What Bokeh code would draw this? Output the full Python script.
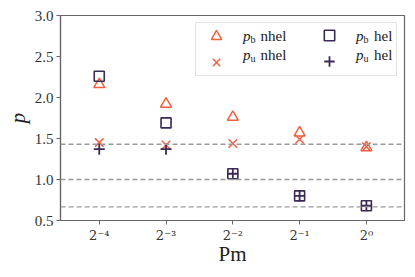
from bokeh.plotting import figure
from bokeh.models import (Range1d, FixedTicker, Span, Legend, LegendItem, Label,
                          ColumnDataSource, NumeralTickFormatter)
from bokeh.embed import file_html
from bokeh.resources import INLINE

# ---- data ----
pm = [0.0625, 0.125, 0.25, 0.5, 1.0]
pb_nhel = [2.16, 1.92, 1.76, 1.57, 1.39]
pu_nhel = [1.45, 1.42, 1.44, 1.49, 1.40]
pb_hel = [2.26, 1.69, 1.07, 0.80, 0.68]
pu_hel = [1.37, 1.37, 1.07, 0.80, 0.68]
ref_lines = [1.43, 1.0, 0.667]
x_ticks = [0.0625, 0.125, 0.25, 0.5, 1.0]
x_tick_labels = ["2⁻⁴", "2⁻³", "2⁻²", "2⁻¹", "2⁰"]
y_ticks = [0.5, 1.0, 1.5, 2.0, 2.5, 3.0]

ORANGE = "#f2603f"
PURPLE = "#3a2a55"
FONT = "Liberation Serif"
AX = "#666666"

src = ColumnDataSource(dict(pm=pm, pb_nhel=pb_nhel, pu_nhel=pu_nhel,
                            pb_hel=pb_hel, pu_hel=pu_hel))

p = figure(width=415, height=277, x_axis_type="log",
           x_range=Range1d(0.0418, 1.485), y_range=Range1d(0.5, 3.0),
           output_backend="svg", toolbar_location=None,
           min_border_left=60, min_border_right=11,
           min_border_top=15, min_border_bottom=57)
p.background_fill_color = "white"
p.border_fill_color = "white"
p.outline_line_color = AX
p.outline_line_width = 1.2
p.xgrid.visible = False
p.ygrid.visible = False

for v in ref_lines:
    p.add_layout(Span(location=v, dimension="width", line_color="#9a9a9a",
                      line_dash="5 3", line_width=1.3))

r1 = p.scatter("pm", "pb_nhel", source=src, marker="triangle", size=11,
               fill_color=None, line_color=ORANGE, line_width=1.5)
r2 = p.scatter("pm", "pu_nhel", source=src, marker="x", size=12,
               line_color=ORANGE, line_width=1.5)
r3 = p.scatter("pm", "pb_hel", source=src, marker="square", size=10,
               fill_color=None, line_color=PURPLE, line_width=1.6)
r4 = p.scatter("pm", "pu_hel", source=src, marker="cross", size=11,
               line_color=PURPLE, line_width=1.8)

# axes
p.xaxis.ticker = FixedTicker(ticks=x_ticks, minor_ticks=[])
p.xaxis.major_label_overrides = {t: l for t, l in zip(x_ticks, x_tick_labels)}
p.yaxis.ticker = FixedTicker(ticks=y_ticks, minor_ticks=[])
p.yaxis.formatter = NumeralTickFormatter(format="0.0")
for ax in (p.xaxis[0], p.yaxis[0]):
    ax.axis_line_color = AX
    ax.axis_line_width = 1.2
    ax.major_tick_line_color = AX
    ax.major_tick_out = 4
    ax.major_tick_in = 0
    ax.minor_tick_out = 0
    ax.minor_tick_in = 0
    ax.major_label_text_font = FONT
    ax.major_label_text_font_size = "15px"
    ax.major_label_text_color = "#333333"
    ax.axis_label_text_font = FONT
    ax.axis_label_text_font_size = "21px"
    ax.axis_label_text_color = "#222222"
    ax.axis_label_text_font_style = "normal"
    ax.major_label_standoff = 3
p.xaxis.major_label_text_font = "DejaVu Serif"
p.xaxis.major_label_text_font_size = "13px"
p.xaxis.axis_label = "Pm"
p.xaxis.axis_label_standoff = -4
p.yaxis.axis_label = "p"
p.yaxis.axis_label_text_font_style = "italic"
p.yaxis.axis_label_standoff = 2

# legend: column 1 (with box), column 2 (transparent, overlaid)
common = dict(location="top_right", margin=7, padding=0, spacing=-7,
              glyph_width=40, glyph_height=26, label_height=26,
              label_standoff=5, background_fill_alpha=0)
legA = Legend(items=[LegendItem(label=" ", renderers=[r1]),
                     LegendItem(label=" ", renderers=[r2])],
              label_width=155,
              border_line_color="#cccccc", border_line_width=1,
              **common)
legB = Legend(items=[LegendItem(label=" ", renderers=[r3]),
                     LegendItem(label=" ", renderers=[r4])],
              label_width=43,
              border_line_alpha=0, **common)
p.add_layout(legA)
p.add_layout(legB)

# legend text (screen units, from frame bottom-left)
leg_text = [
    # (x, y, text, size, style)
    (182.5, 184.5, "p", "15px", "italic"),
    (190, 181.5, "b", "10px", "normal"),
    (200, 184.5, "nhel", "15px", "normal"),
    (182.5, 165.5, "p", "15px", "italic"),
    (190, 162.5, "u", "10px", "normal"),
    (200, 165.5, "nhel", "15px", "normal"),
    (295.5, 184.5, "p", "15px", "italic"),
    (303, 181.5, "b", "10px", "normal"),
    (313.5, 184.5, "hel", "15px", "normal"),
    (295.5, 165.5, "p", "15px", "italic"),
    (303, 162.5, "u", "10px", "normal"),
    (313.5, 165.5, "hel", "15px", "normal"),
]
for x, y, t, s, st in leg_text:
    p.add_layout(Label(x=x, y=y, x_units="screen", y_units="screen", text=t,
                       text_font=FONT, text_font_size=s, text_font_style=st,
                       text_baseline="middle", text_color="#222222",
                       level="overlay"))

open("out.html", "w").write(file_html(p, INLINE))
